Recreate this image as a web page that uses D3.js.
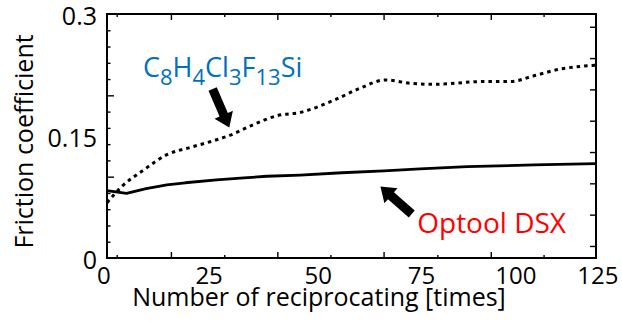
<!DOCTYPE html>
<html>
<head>
<meta charset="utf-8">
<script src="https://cdn.jsdelivr.net/npm/d3@7"></script>
<style>
  body { margin: 0; background: #fff; }
  text { font-family: "Open Sans", "Noto Sans", sans-serif; }
</style>
</head>
<body>
<svg id="chart" width="622" height="325"></svg>
<script>
// C8H4Cl3F13Si coating (dotted)
const fasCycles = [0, 3.8, 9.3, 15.3, 21.3, 26.4, 31.5, 37.4, 43.5, 49.4, 58, 64.8, 71.2, 77.6, 83.5, 96.3, 103.2, 109.1, 116, 125];
const fasFriction = [0.068, 0.088, 0.108, 0.127, 0.136, 0.143, 0.151, 0.164, 0.175, 0.179, 0.194, 0.209, 0.219, 0.2147, 0.2135, 0.217, 0.217, 0.224, 0.2324, 0.237];

// Optool DSX coating (solid)
const dsxCycles = [0, 5, 10, 15.3, 20, 28, 35, 40.9, 49.4, 60, 70.8, 80, 92.1, 100, 109.1, 125];
const dsxFriction = [0.0828, 0.0795, 0.0852, 0.0898, 0.0925, 0.096, 0.0985, 0.1005, 0.102, 0.1048, 0.107, 0.1095, 0.1123, 0.1132, 0.1145, 0.116];

// axis labels and where they sit along the axis in the source figure
const xTickLabels = ['0', '25', '50', '75', '100', '125'];
const xLabelAt = [-0.8, 26.1, 54, 80.4, 104.5, 125.5];
const yTickLabels = ['0', '0.15', '0.3'];
const yLabelAt = [0, 0.15, 0.3];

// tick marks (they do not line up with the labels in the source)
const xMinorTicks = [2.48, 29.97, 57.1, 84.45, 111.6];
const xMajorTicks = [16.34, 43.55, 70.7, 98.1];
const yLeftMinor = [0.02, 0.04, 0.06, 0.08, 0.12, 0.14, 0.16, 0.18, 0.22, 0.24, 0.26, 0.28];
const yLeftMajor = [0.1, 0.2];
const yRightTicks = [0.0148, 0.0533, 0.0918, 0.1303, 0.1688, 0.2073, 0.2458, 0.2843];

// arrows: [tailX, tailY, tipX, tipY] in data units
const arrows = [
  [27.0, 0.2078, 31.25, 0.1604],
  [77.9, 0.0541, 69.9, 0.0879]
];

const plotLeft = 107, plotRight = 596, plotTop = 14, plotBottom = 258;

const svg = d3.select('#chart');

const x = d3.scaleLinear().domain([0, 125]).range([plotLeft, plotRight]);
const y = d3.scaleLinear().domain([0, 0.3]).range([plotBottom, plotTop]);

function tickAxis(axis, values, size, transform) {
  const g = svg.append('g')
    .attr('transform', transform)
    .call(axis.tickValues(values).tickSize(size).tickFormat(''));
  g.select('.domain').remove();
  g.selectAll('line').attr('stroke', '#000').attr('stroke-width', 1.4);
}

tickAxis(d3.axisBottom(x), xMinorTicks, -3, `translate(0,${plotBottom})`);
tickAxis(d3.axisBottom(x), xMajorTicks, -6, `translate(0,${plotBottom})`);
tickAxis(d3.axisTop(x), xMinorTicks, -3, `translate(0,${plotTop})`);
tickAxis(d3.axisTop(x), xMajorTicks, -6, `translate(0,${plotTop})`);
tickAxis(d3.axisLeft(y), yLeftMinor, -3.5, `translate(${plotLeft},0)`);
tickAxis(d3.axisLeft(y), yLeftMajor, -7, `translate(${plotLeft},0)`);
tickAxis(d3.axisRight(y), yRightTicks, -6, `translate(${plotRight},0)`);

svg.append('rect')
  .attr('x', plotLeft).attr('y', plotTop)
  .attr('width', plotRight - plotLeft).attr('height', plotBottom - plotTop)
  .attr('fill', 'none').attr('stroke', '#000').attr('stroke-width', 2);

const smoothLine = d3.line()
  .x(d => x(d[0]))
  .y(d => y(d[1]))
  .curve(d3.curveMonotoneX);

const straightLine = d3.line()
  .x(d => x(d[0]))
  .y(d => y(d[1]));

svg.append('path')
  .datum(d3.zip(fasCycles, fasFriction))
  .attr('d', smoothLine)
  .attr('fill', 'none')
  .attr('stroke', '#000')
  .attr('stroke-width', 3)
  .attr('stroke-dasharray', '3.5,4');

svg.append('path')
  .datum(d3.zip(dsxCycles, dsxFriction))
  .attr('d', straightLine)
  .attr('fill', 'none')
  .attr('stroke', '#000')
  .attr('stroke-width', 2.8)
  .attr('stroke-linejoin', 'round');

// block arrows
function arrowPoints(a) {
  const x0 = x(a[0]), y0 = y(a[1]), x1 = x(a[2]), y1 = y(a[3]);
  const len = Math.hypot(x1 - x0, y1 - y0);
  const ux = (x1 - x0) / len, uy = (y1 - y0) / len;
  const nx = -uy, ny = ux;
  const w = 4.5, hw = 10, hl = 14;
  const bx = x1 - ux * hl, by = y1 - uy * hl;
  return [
    [x0 + nx * w, y0 + ny * w],
    [bx + nx * w, by + ny * w],
    [bx + nx * hw, by + ny * hw],
    [x1, y1],
    [bx - nx * hw, by - ny * hw],
    [bx - nx * w, by - ny * w],
    [x0 - nx * w, y0 - ny * w]
  ].map(p => p.join(',')).join(' ');
}

svg.selectAll('.arrow')
  .data(arrows)
  .enter().append('polygon')
  .attr('class', 'arrow')
  .attr('points', arrowPoints)
  .attr('fill', '#000');

// tick labels
svg.selectAll('.xlabel')
  .data(xTickLabels)
  .enter().append('text')
  .attr('class', 'xlabel')
  .attr('x', (d, i) => x(xLabelAt[i]))
  .attr('y', 284)
  .attr('text-anchor', 'middle')
  .attr('font-size', 24)
  .text(d => d);

svg.selectAll('.ylabel')
  .data(yTickLabels)
  .enter().append('text')
  .attr('class', 'ylabel')
  .attr('x', plotLeft - 10)
  .attr('y', (d, i) => y(yLabelAt[i]) + 11)
  .attr('text-anchor', 'end')
  .attr('font-size', 25)
  .text(d => d);

// axis titles
svg.append('text')
  .attr('x', 319)
  .attr('y', 306)
  .attr('text-anchor', 'middle')
  .attr('font-size', 25)
  .text('Number of reciprocating [times]');

svg.append('text')
  .attr('transform', 'translate(33,141.5) rotate(-90)')
  .attr('text-anchor', 'middle')
  .attr('font-size', 25)
  .text('Friction coefficient');

// series labels
const fasLabel = svg.append('text')
  .attr('x', x(9.2))
  .attr('y', y(0.2225))
  .attr('font-size', 27)
  .attr('fill', '#0070C0');
[['C', false], ['8', true], ['H', false], ['4', true], ['Cl', false], ['3', true],
  ['F', false], ['13', true], ['Si', false]].forEach(([t, sub], i, arr) => {
  const prevSub = i > 0 && arr[i - 1][1];
  fasLabel.append('tspan')
    .attr('font-size', sub ? 22 : 27)
    .attr('dy', sub ? 8 : (prevSub ? -8 : 0))
    .text(t);
});

svg.append('text')
  .attr('x', x(79.3))
  .attr('y', y(0.0307))
  .attr('font-size', 28)
  .attr('fill', '#FF0000')
  .text('Optool DSX');
</script>
</body>
</html>
